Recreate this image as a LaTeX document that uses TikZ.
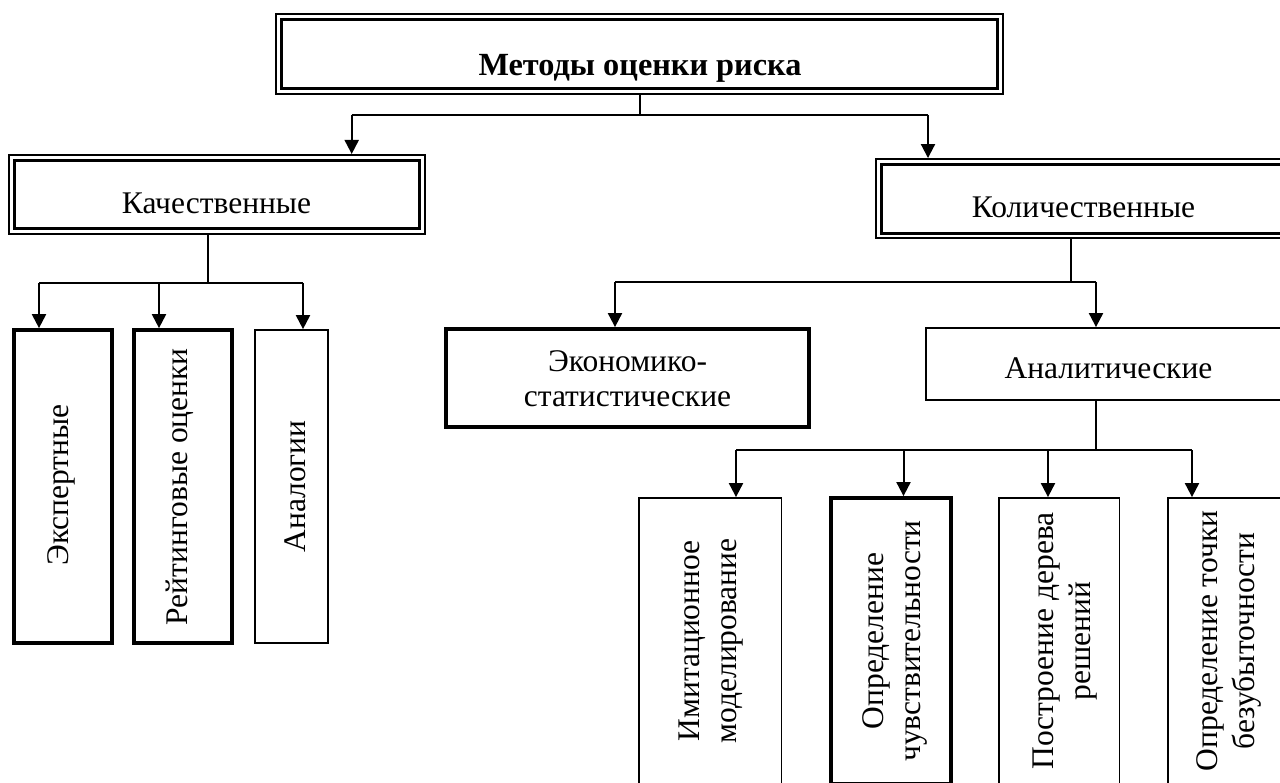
\documentclass[tikz,border=0pt]{standalone}
\usepackage{fontspec}
\setmainfont{Liberation Serif}
\usetikzlibrary{arrows.meta}
\begin{document}
\begin{tikzpicture}[x=1pt,y=-1pt,
  box/.style={draw, line width=1.8pt, inner sep=0pt, rectangle},
  boldbox/.style={draw, line width=3.8pt, inner sep=0pt, rectangle},
  dbox/.style={draw, line width=2pt, inner sep=0pt, rectangle},
  lbl/.style={inner sep=0pt, anchor=base, font=\fontsize{31.5}{37}\selectfont},
  vlbl/.style={lbl, rotate=90},
  link/.style={line width=2pt},
  arr/.style={link, -{Triangle[length=14pt,width=14pt]}}]

\useasboundingbox (0,0) rectangle (1280,783);
\fill[white] (0,0) rectangle (1280,783);
\clip (0,0) rectangle (1280,783);

% framed headings with a double border
\node[dbox, minimum width=727pt, minimum height=80pt] (top) at (639.5,54.3) {};
\node[dbox, minimum width=415.7pt, minimum height=79pt] (kach) at (217.2,194.5) {};
\node[dbox, minimum width=415pt, minimum height=79.3pt] (kol) at (1083.5,198.7) {};
\foreach \n/\d in {top/6.5,kach/6.4,kol/6.2}
  \draw[line width=2.8pt] ([shift={(\d,\d)}]\n.north west) rectangle ([shift={(-\d,-\d)}]\n.south east);

\node[lbl, font=\fontsize{32.3}{37}\selectfont\bfseries] (ttop) at (640,76) {Методы оценки риска};
\node[lbl] (tkach) at (216.5,213.5) {Качественные};
\node[lbl] (tkol) at (1083.5,217.3) {Количественные};

% qualitative methods
\node[boldbox, minimum width=98pt, minimum height=312.7pt] (eksp) at (63,486.4) {};
\node[boldbox, minimum width=98pt, minimum height=312.7pt] (reit) at (183,486.4) {};
\node[box, minimum width=73pt, minimum height=312.7pt] (anal) at (291.5,486.4) {};
\node[vlbl] (teksp) at (68.3,485) {Экспертные};
\node[vlbl] (treit) at (187.7,486.7) {Рейтинговые оценки};
\node[vlbl] (tanal) at (305,486.5) {Аналогии};

% quantitative methods
\node[boldbox, minimum width=363pt, minimum height=98pt] (econ) at (627.5,378) {};
\node[lbl] (tecon1) at (627.5,371.7) {Экономико-};
\node[lbl] (tecon2) at (627.5,406.7) {статистические};
\node[box, minimum width=365pt, minimum height=72pt] (analit) at (1108.5,364) {};
\node[lbl] (tanalit) at (1108.5,378.3) {Аналитические};

% analytical methods
\node[box, minimum width=142.5pt, minimum height=286pt] (b1) at (710.2,641) {};
\node[boldbox, minimum width=120pt, minimum height=286pt] (b2) at (891,641) {};
\node[box, minimum width=120.5pt, minimum height=286pt] (b3) at (1059.2,641) {};
\node[box, minimum width=120pt, minimum height=286pt] (b4) at (1227.8,641) {};
\node[vlbl] (tb1a) at (699.3,641) {Имитационное};
\node[vlbl] (tb1b) at (736,641) {моделирование};
\node[vlbl] (tb2a) at (883.3,641) {Определение};
\node[vlbl] (tb2b) at (920.5,641) {чувствительности};
\node[vlbl] (tb3a) at (1053.2,641) {Построение дерева};
\node[vlbl] (tb3b) at (1090,641) {решений};
\node[vlbl] (tb4a) at (1217.3,641) {Определение точки};
\node[vlbl] (tb4b) at (1254,641) {безубыточности};

% connectors: top level
\coordinate (j0) at (639.5,115);
\coordinate (a1) at (351.7,115);
\coordinate (a2) at (928,115);
\draw[link] (top.south) -- (j0);
\draw[link] (a1) -- (a2);
\draw[arr] (a1) -- (a1 |- kach.north);
\draw[arr] (a2) -- (a2 |- kol.north);

% connectors: qualitative
\coordinate (j1) at (208,283);
\coordinate (c1) at (39,283);
\coordinate (c2) at (159,283);
\coordinate (c3) at (303,283);
\draw[link] (kach.south -| j1) -- (j1);
\draw[link] (c1) -- (c3);
\draw[arr] (c1) -- (c1 |- eksp.north);
\draw[arr] (c2) -- (c2 |- reit.north);
\draw[arr] (c3) -- (c3 |- anal.north);

% connectors: quantitative
\coordinate (j2) at (1071,282);
\coordinate (d1) at (615,282);
\coordinate (d2) at (1096,282);
\draw[link] (kol.south -| j2) -- (j2);
\draw[link] (d1) -- (d2);
\draw[arr] (d1) -- (d1 |- econ.north);
\draw[arr] (d2) -- (d2 |- analit.north);

% connectors: analytical
\coordinate (j3) at (1096,450);
\coordinate (e1) at (736,450);
\coordinate (e2) at (903.5,450);
\coordinate (e3) at (1048,450);
\coordinate (e4) at (1192,450);
\draw[link] (analit.south -| j3) -- (j3);
\draw[link] (e1) -- (e4);
\draw[arr] (e1) -- (e1 |- b1.north);
\draw[arr] (e2) -- (e2 |- b2.north);
\draw[arr] (e3) -- (e3 |- b3.north);
\draw[arr] (e4) -- (e4 |- b4.north);

\end{tikzpicture}
\end{document}
